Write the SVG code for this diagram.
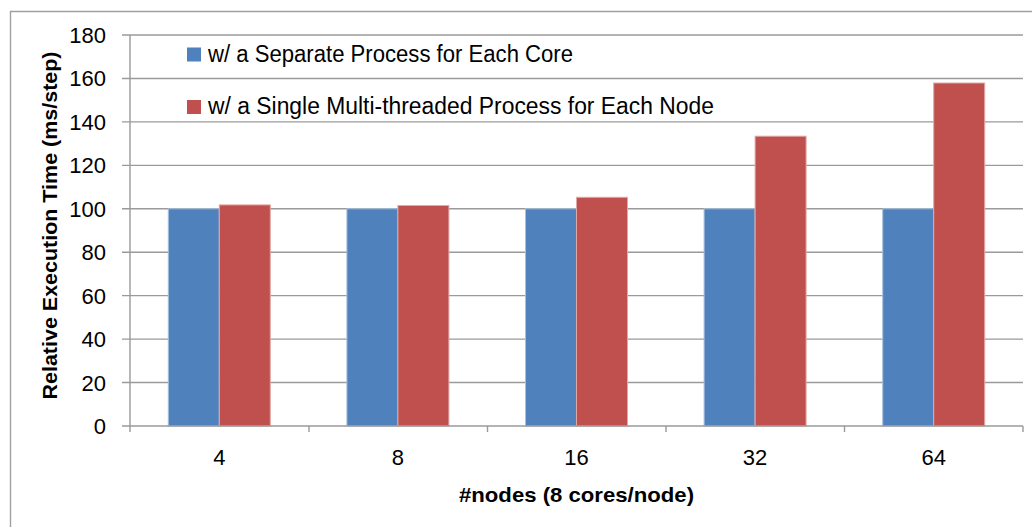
<svg xmlns="http://www.w3.org/2000/svg" width="1032" height="527" viewBox="0 0 1032 527">
  <style>
    .grid { stroke: #9a9a9a; stroke-width: 1.4; fill: none; }
    .axis { stroke: #9a9a9a; stroke-width: 1.4; fill: none; }
    .border { stroke: #a0a0a0; stroke-width: 1.4; fill: none; }
    .blue { fill: #4F81BD; stroke: #a8c0de; stroke-width: 1; }
    .red { fill: #C0504D; stroke: #e0a8a6; stroke-width: 1; }
    .lbl { font-family: "Liberation Sans", Arial, sans-serif; font-size: 22px; fill: #000; }
    .leg { font-family: "Liberation Sans", Arial, sans-serif; font-size: 23px; fill: #000; }
    .ytick { text-anchor: end; }
    .xtick { text-anchor: middle; }
    .title { font-family: "Liberation Sans", Arial, sans-serif; font-size: 21px; font-weight: bold; fill: #000; }
  </style>
  <rect x="0" y="0" width="1032" height="527" fill="#ffffff"/>
  <g id="chart-border">
    <path class="border" d="M10.5,540 V11.5 H1040"/>
  </g>
  <g id="gridlines">
    <path class="grid" d="M122,35 H1023 M122,78.44 H1023 M122,121.89 H1023 M122,165.33 H1023 M122,208.78 H1023 M122,252.22 H1023 M122,295.67 H1023 M122,339.11 H1023 M122,382.56 H1023"/>
  </g>
  <g id="series-separate">
    <rect class="blue" x="168.3" y="208.78" width="51" height="217.22"/>
    <rect class="blue" x="346.9" y="208.78" width="51" height="217.22"/>
    <rect class="blue" x="525.5" y="208.78" width="51" height="217.22"/>
    <rect class="blue" x="704.1" y="208.78" width="51" height="217.22"/>
    <rect class="blue" x="882.7" y="208.78" width="51" height="217.22"/>
  </g>
  <g id="series-single">
    <rect class="red" x="219.3" y="204.9" width="51" height="221.1"/>
    <rect class="red" x="397.9" y="205.5" width="51" height="220.5"/>
    <rect class="red" x="576.5" y="197.3" width="51" height="228.7"/>
    <rect class="red" x="755.1" y="136.2" width="51" height="289.8"/>
    <rect class="red" x="933.7" y="83.0" width="51" height="343.0"/>
  </g>
  <g id="axes">
    <path class="axis" d="M130,35 V432 M122,426 H1023 M309,426 V432 M487.5,426 V432 M666,426 V432 M844.5,426 V432 M1023,426 V432"/>
  </g>
  <g id="y-ticks">
    <text class="lbl ytick" x="106" y="43">180</text>
    <text class="lbl ytick" x="106" y="86.4">160</text>
    <text class="lbl ytick" x="106" y="129.9">140</text>
    <text class="lbl ytick" x="106" y="173.3">120</text>
    <text class="lbl ytick" x="106" y="216.8">100</text>
    <text class="lbl ytick" x="106" y="260.2">80</text>
    <text class="lbl ytick" x="106" y="303.7">60</text>
    <text class="lbl ytick" x="106" y="347.1">40</text>
    <text class="lbl ytick" x="106" y="390.6">20</text>
    <text class="lbl ytick" x="106" y="433.5">0</text>
  </g>
  <g id="x-ticks">
    <text class="lbl xtick" x="219.3" y="465">4</text>
    <text class="lbl xtick" x="397.9" y="465">8</text>
    <text class="lbl xtick" x="576.5" y="465">16</text>
    <text class="lbl xtick" x="755.1" y="465">32</text>
    <text class="lbl xtick" x="933.7" y="465">64</text>
  </g>
  <g id="axis-titles">
    <text class="title" x="576.5" y="501.5" text-anchor="middle" textLength="235" lengthAdjust="spacingAndGlyphs">#nodes (8 cores/node)</text>
    <text class="title" transform="translate(56.5,225.5) rotate(-90)" x="0" y="0" text-anchor="middle" textLength="348" lengthAdjust="spacingAndGlyphs">Relative Execution Time (ms/step)</text>
  </g>
  <g id="legend">
    <rect x="187" y="47.5" width="14" height="14" fill="#4F81BD"/>
    <text class="leg" x="208" y="62" textLength="365" lengthAdjust="spacingAndGlyphs">w/ a Separate Process for Each Core</text>
    <rect x="187" y="100" width="14" height="14" fill="#C0504D"/>
    <text class="leg" x="208" y="113.5" textLength="506" lengthAdjust="spacingAndGlyphs">w/ a Single Multi-threaded Process for Each Node</text>
  </g>
</svg>
